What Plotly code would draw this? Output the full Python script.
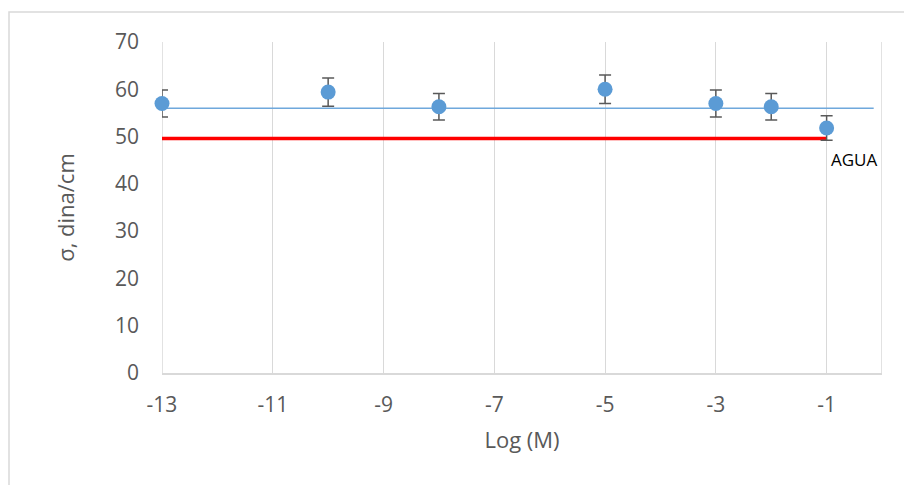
import plotly.graph_objects as go

# Data
log_m = [-13, -10, -8, -5, -3, -2, -1]
sigma = [57.0, 59.4, 56.3, 60.0, 57.0, 56.3, 51.8]
error_pct = 5

ref_x = [-13, -0.15]
ref_y = [56.0, 56.0]

agua_x = [-13, -1]
agua_y = [49.6, 49.6]
agua_label = "AGUA"
agua_label_pos = (-0.5, 45.2)

x_ticks = [-13, -11, -9, -7, -5, -3, -1]
x_tick_text = ["-13", "-11", "-9", "-7", "-5", "-3", "-1"]
y_ticks = [0, 10, 20, 30, 40, 50, 60, 70]

grid_col = "#D9D9D9"
txt_col = "#595959"
font_fam = "Open Sans, Liberation Sans, sans-serif"

fig = go.Figure()

fig.add_trace(go.Scatter(x=ref_x, y=ref_y, mode="lines",
                         line=dict(color="#6FA8DC", width=1.5),
                         hoverinfo="skip", showlegend=False))
fig.add_trace(go.Scatter(x=agua_x, y=agua_y, mode="lines",
                         line=dict(color="#FF0000", width=3.5),
                         hoverinfo="skip", showlegend=False))
fig.add_trace(go.Scatter(x=log_m, y=sigma, mode="markers",
                         marker=dict(color="#5B9BD5", size=15),
                         error_y=dict(type="percent", value=error_pct,
                                      color="#595959", thickness=1.5, width=6),
                         cliponaxis=False, showlegend=False))

fig.add_annotation(x=agua_label_pos[0], y=agua_label_pos[1], text=agua_label,
                   showarrow=False, font=dict(family=font_fam, size=17, color="#000000"))

# grid lines at axis edges
for xv in (-13, 0):
    fig.add_shape(type="line", x0=xv, x1=xv, y0=0, y1=70, xref="x", yref="y",
                  line=dict(color=grid_col, width=1.5), layer="below")
# chart border
fig.add_shape(type="rect", xref="paper", yref="paper",
              x0=-0.2125, x1=1.06, y0=-0.36, y1=1.0906,
              line=dict(color=grid_col, width=1.5))

fig.update_layout(
    width=904, height=485,
    margin=dict(l=162, r=22, t=42, b=112),
    paper_bgcolor="white", plot_bgcolor="white",
    font=dict(family=font_fam, color=txt_col, size=21),
    xaxis=dict(range=[-13, 0], tickvals=x_ticks, ticktext=x_tick_text,
               showgrid=True, gridcolor=grid_col,
               gridwidth=1.3, zeroline=False, showline=True, linecolor=grid_col,
               linewidth=1.5, ticks="", ticklabelstandoff=12,
               title=dict(text="Log (M)", standoff=16, font=dict(size=22, color=txt_col))),
    yaxis=dict(range=[0, 70], tickvals=y_ticks, showgrid=False, zeroline=False,
               showline=False, ticks="", ticklabelstandoff=22,
               title=dict(text="σ, dina/cm", standoff=34, font=dict(size=22, color=txt_col))),
)

fig.write_html("out.html")
